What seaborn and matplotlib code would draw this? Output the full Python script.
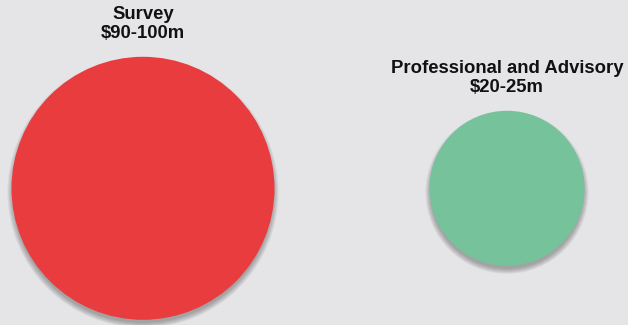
import numpy as np
import pandas as pd
import matplotlib
matplotlib.use("Agg")
import matplotlib.pyplot as plt
import seaborn as sns
from matplotlib import transforms

# ---- data ----
categories = ["Survey", "Professional and Advisory"]
value_low = [90, 20]
value_high = [100, 25]
range_labels = ["$90-100m", "$20-25m"]
colors = ["#e83c3f", "#75c29b"]

# ---- style ----
BG = "#e5e5e8"
DPI = 100
sns.set_theme(style="white")
plt.rcParams["font.family"] = ["Liberation Sans", "DejaVu Sans"]

fig = plt.figure(figsize=(6.28, 3.25), dpi=DPI)
fig.patch.set_facecolor(BG)
ax = fig.add_axes([0, 0, 1, 1])
ax.set_facecolor(BG)

df = pd.DataFrame({
    "category": categories,
    "pos": np.arange(len(categories)),
    "y": np.zeros(len(categories)),
    "value": value_high,
})

big_d_px, small_d_px = 263, 155
px2pt = 72 / DPI


def size_range(extra_px=0):
    return ((small_d_px + extra_px) * px2pt) ** 2, ((big_d_px + extra_px) * px2pt) ** 2


# soft drop shadow layers
shadow_tr = transforms.offset_copy(ax.transData, fig=fig, x=0, y=-4, units="dots")
for extra in [-2, 0, 2, 4, 6, 8]:
    sns.scatterplot(data=df, x="pos", y="y", size="value", sizes=size_range(extra),
                    color="#404040", alpha=0.08, linewidth=0, legend=False, ax=ax,
                    transform=shadow_tr, zorder=1)

# main bubbles
sns.scatterplot(data=df, x="pos", y="y", size="value", sizes=size_range(0),
                hue="category", palette=colors, linewidth=0, legend=False,
                ax=ax, zorder=2, alpha=1)

# labels
for i, (cat, rng) in enumerate(zip(categories, range_labels)):
    r = big_d_px if value_high[i] == max(value_high) else small_d_px
    ax.annotate(f"{cat}\n{rng}", xy=(i, 0), xytext=(0, r * px2pt / 2 + 10.5),
                textcoords="offset points", ha="center", va="bottom",
                fontsize=13.3, fontweight="bold", color="#111111",
                linespacing=1.15, zorder=3)

ax.set_xlim(-143 / 364, 485 / 364)
ax.set_ylim(-1.367, 1.883)
ax.set_axis_off()

fig.savefig("out.png", dpi=DPI, facecolor=BG)
